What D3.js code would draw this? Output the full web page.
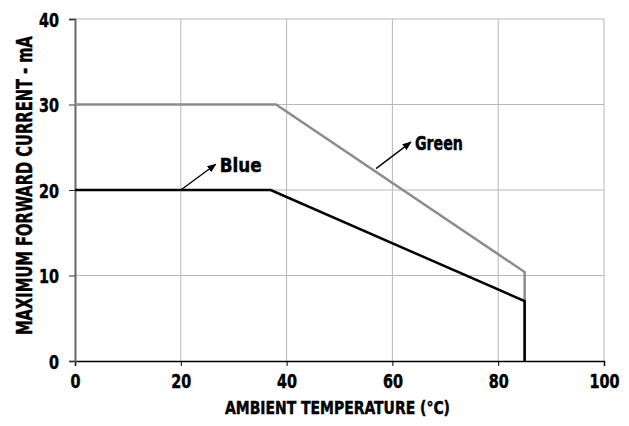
<!DOCTYPE html>
<html><head><meta charset="utf-8">
<script src="https://cdn.jsdelivr.net/npm/d3@7"></script>
<style>
html,body{margin:0;padding:0;background:#fff;}
text{font-family:"DejaVu Sans Condensed","DejaVu Sans",sans-serif;font-stretch:condensed;font-weight:bold;stroke:#000;stroke-width:0.45px;}
</style></head>
<body>
<svg id="c" width="629" height="426"></svg>
<script>
const xTicks = [0, 20, 40, 60, 80, 100];
const yTicks = [0, 10, 20, 30, 40];
const greenTemp = [0, 38, 85, 85];
const greenCurrent = [30, 30, 10.4, 0];
const blueTemp = [0, 37, 85, 85];
const blueCurrent = [20, 20, 7, 0];
const labels = ["Blue", "Green"];
const labelArrowFrom = [[20.0, 20.0], [56.9, 22.5]];
const labelArrowTo = [[26.6, 23.0], [63.5, 25.6]];

const svg = d3.select("#c");
const x = d3.scaleLinear().domain([0, 100]).range([75, 604]);
const y = d3.scaleLinear().domain([0, 40]).range([361, 19]);

function fit(sel, w) {
  sel.attr("textLength", w).attr("lengthAdjust", "spacingAndGlyphs");
}

// grid
svg.append("g").selectAll("line").data(xTicks.slice(1)).join("line")
  .attr("x1", d => x(d)).attr("x2", d => x(d)).attr("y1", y(40)).attr("y2", y(0))
  .attr("stroke", "#b8b8b8").attr("stroke-width", 1);
svg.append("g").selectAll("line").data(yTicks.slice(1)).join("line")
  .attr("x1", x(0)).attr("x2", x(100)).attr("y1", d => y(d)).attr("y2", d => y(d))
  .attr("stroke", "#b8b8b8").attr("stroke-width", 1);

// axes
const xAxis = svg.append("g").attr("transform", `translate(0,${y(0)})`)
  .call(d3.axisBottom(x).tickValues(xTicks).tickSize(5).tickPadding(5));
xAxis.select(".domain").attr("stroke", "#000").attr("stroke-width", 1.5);
xAxis.selectAll("line").attr("stroke", "#000");
xAxis.selectAll("text").attr("font-size", 19).attr("fill", "#000")
  .attr("dy", null).attr("y", 26.5)
  .attr("textLength", d => String(d).length * 10).attr("lengthAdjust", "spacingAndGlyphs");

const yAxis = svg.append("g").attr("transform", `translate(${x(0)},0)`)
  .call(d3.axisLeft(y).tickValues(yTicks).tickSize(6).tickPadding(10));
yAxis.select(".domain").attr("stroke", "#666").attr("stroke-width", 2);
yAxis.selectAll("line").attr("stroke", "#333");
yAxis.selectAll("text").attr("font-size", 19).attr("fill", "#000")
  .attr("dy", null).attr("y", 7)
  .attr("textLength", d => String(d).length * 10).attr("lengthAdjust", "spacingAndGlyphs");

// lines
const line = d3.line().x(d => x(d[0])).y(d => y(d[1]));
svg.append("path").datum(d3.zip(greenTemp, greenCurrent)).attr("d", line)
  .attr("fill", "none").attr("stroke", "#8c8c8c").attr("stroke-width", 2.5);
svg.append("path").datum(d3.zip(blueTemp, blueCurrent)).attr("d", line)
  .attr("fill", "none").attr("stroke", "#000").attr("stroke-width", 2.5);

// arrows
const defs = svg.append("defs");
defs.append("marker").attr("id", "ah").attr("viewBox", "0 0 10 10").attr("refX", 9).attr("refY", 5)
  .attr("markerWidth", 7).attr("markerHeight", 7).attr("orient", "auto")
  .append("path").attr("d", "M0,1 L10,5 L0,9 Z").attr("fill", "#000");
const labelW = [42, 48];
labels.forEach((lab, i) => {
  const f = labelArrowFrom[i], t = labelArrowTo[i];
  svg.append("line").attr("x1", x(f[0])).attr("y1", y(f[1])).attr("x2", x(t[0])).attr("y2", y(t[1]))
    .attr("stroke", "#000").attr("stroke-width", 1.3).attr("marker-end", "url(#ah)");
  svg.append("text").attr("x", x(t[0]) + 4).attr("y", y(t[1]) + 7.5)
    .attr("font-size", 19.5).attr("fill", "#000").text(lab).call(fit, labelW[i]);
});

// titles
svg.append("text").attr("x", 225).attr("y", 414)
  .attr("font-size", 18).attr("fill", "#000").text("AMBIENT TEMPERATURE (°C)").call(fit, 225);
svg.append("text").attr("transform", `translate(31.5,335) rotate(-90)`)
  .attr("font-size", 21).attr("fill", "#000")
  .text("MAXIMUM FORWARD CURRENT - mA").call(fit, 299);
</script>
</body></html>
